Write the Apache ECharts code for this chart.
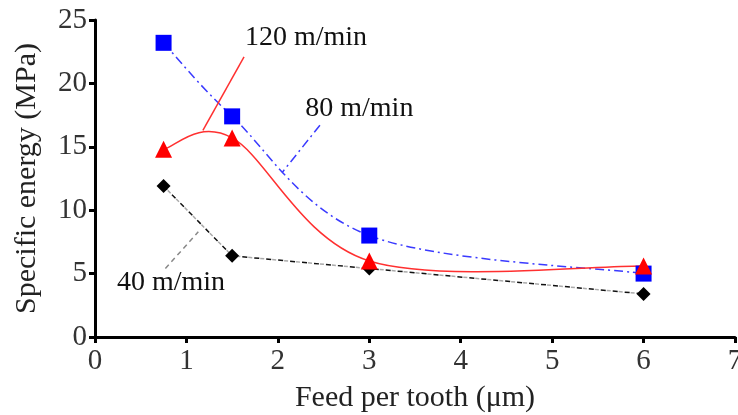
<!DOCTYPE html>
<html>
<head>
<meta charset="utf-8">
<script src="https://cdn.jsdelivr.net/npm/echarts@6/dist/echarts.min.js"></script>
<style>
  html, body { margin: 0; padding: 0; background: #fff; }
  #chart { width: 738px; height: 415px; }
</style>
</head>
<body>
<div id="chart"></div>
<script>
// feed per tooth (um)
const feeds = [0.75, 1.5, 3, 6];
// specific energy (MPa) for each cutting speed
const energy80 = [23.2, 17.4, 8.0, 5.0];
const energy120 = [14.8, 15.7, 6.0, 5.6];
const energy40 = [11.9, 6.4, 5.4, 3.4];

const xTicks = [0, 1, 2, 3, 4, 5, 6, 7];
const yTicks = [0, 5, 10, 15, 20, 25];
const speedNames = ['120 m/min', '80 m/min', '40 m/min'];

// where the annotation texts and their leader lines sit (axis units)
const notePos = [[1.64, 23.6], [2.30, 18.0], [0.24, 4.3]];
const noteLines = [
  [[1.63, 22.1], [1.18, 16.3]],
  [[2.46, 16.7], [2.05, 13.0]],
  [[0.77, 5.4], [1.13, 8.3]]
];

const serif = 'Liberation Serif';

function pairs(ys) {
  return feeds.map((x, i) => [x, ys[i]]);
}

// catmull-rom style bezier through the pixel points (like a spreadsheet "smoothed line")
function smoothPath(p) {
  let d = 'M' + p[0][0] + ',' + p[0][1];
  for (let i = 0; i < p.length - 1; i++) {
    const p0 = p[Math.max(i - 1, 0)], p1 = p[i], p2 = p[i + 1], p3 = p[Math.min(i + 2, p.length - 1)];
    const c1 = [p1[0] + (p2[0] - p0[0]) / 6, p1[1] + (p2[1] - p0[1]) / 6];
    const c2 = [p2[0] - (p3[0] - p1[0]) / 6, p2[1] - (p3[1] - p1[1]) / 6];
    d += ' C' + c1[0] + ',' + c1[1] + ' ' + c2[0] + ',' + c2[1] + ' ' + p2[0] + ',' + p2[1];
  }
  return d;
}
function straightPath(p) {
  return p.map((q, i) => (i ? 'L' : 'M') + q[0] + ',' + q[1]).join(' ');
}

function curve(ys, smooth, strokes, z) {
  return {
    type: 'custom',
    coordinateSystem: 'cartesian2d',
    data: pairs(ys),
    silent: true,
    z: z,
    renderItem: function (params, api) {
      if (params.dataIndex !== 0) return null;
      const pts = feeds.map((x, i) => api.coord([x, ys[i]]));
      const d = smooth ? smoothPath(pts) : straightPath(pts);
      return {
        type: 'group',
        children: strokes.map(s => ({
          type: 'path',
          shape: { pathData: d },
          style: { fill: 'none', stroke: s.color, lineWidth: 1.5, lineDash: s.dash || null, lineDashOffset: s.offset || 0 }
        }))
      };
    }
  };
}

function markers(name, ys, symbol, size, color, note, lineColor, lineType) {
  return {
    name: name,
    type: 'scatter',
    data: pairs(ys),
    symbol: symbol,
    symbolSize: size,
    itemStyle: { color: color, opacity: 1 },
    z: 5,
    markLine: {
      silent: true,
      symbol: ['none', 'none'],
      label: { show: false },
      lineStyle: { color: lineColor, width: 1.5, type: lineType },
      emphasis: { disabled: true },
      data: [[{ coord: noteLines[note][0] }, { coord: noteLines[note][1] }]]
    }
  };
}

const chart = echarts.init(document.getElementById('chart'));

const option = {
  animation: false,
  grid: { left: 95, right: 3, top: 20, bottom: 78, outerBoundsMode: 'none', containLabel: false },
  xAxis: {
    type: 'value',
    min: 0,
    max: 7,
    interval: 1,
    name: 'Feed per tooth (\u03bcm)',
    nameLocation: 'middle',
    nameGap: 46,
    nameTextStyle: { fontFamily: serif, fontSize: 30, color: '#222' },
    axisLine: { lineStyle: { color: '#000', width: 3 } },
    axisTick: { show: true, length: 6, lineStyle: { color: '#000', width: 3 } },
    axisLabel: { fontFamily: serif, fontSize: 29, color: '#333', margin: 10,
      formatter: v => xTicks.includes(v) ? String(v) : '' },
    splitLine: { show: false }
  },
  yAxis: {
    type: 'value',
    min: 0,
    max: 25,
    interval: 5,
    name: 'Specific energy (MPa)',
    nameLocation: 'middle',
    nameGap: 53,
    nameTextStyle: { fontFamily: serif, fontSize: 30, color: '#222' },
    axisLine: { show: true, lineStyle: { color: '#000', width: 3 } },
    axisTick: { show: true, length: 6, lineStyle: { color: '#000', width: 3 } },
    axisLabel: { fontFamily: serif, fontSize: 29, color: '#333', margin: 8,
      formatter: v => yTicks.includes(v) ? String(v) : '' },
    splitLine: { show: false }
  },
  series: [
    curve(energy40, false, [
      { color: '#111', dash: [5, 7] },
      { color: '#aaa', dash: [4, 8], offset: 6 }
    ], 2),
    curve(energy80, true, [{ color: '#3a3aff', dash: [9, 4, 2, 4] }], 3),
    curve(energy120, true, [{ color: '#ff3030' }], 4),
    markers('40 m/min', energy40, 'diamond', 14, '#000', 2, '#888', [5, 4]),
    markers('80 m/min', energy80, 'rect', 16, '#0000ff', 1, '#3a3aff', [9, 4, 2, 4]),
    markers('120 m/min', energy120, 'triangle', 17, '#ff0000', 0, '#ff3030', 'solid')
  ]
};

chart.setOption(option);

// annotation texts, placed from their axis-unit positions
const graphic = speedNames.map((t, i) => {
  const p = chart.convertToPixel({ gridIndex: 0 }, notePos[i]);
  return {
    type: 'text',
    x: p[0],
    y: p[1],
    z: 10,
    style: { text: t, fontFamily: serif, fontSize: 28, fill: '#111', verticalAlign: 'middle' }
  };
});
chart.setOption({ graphic: graphic });
</script>
</body>
</html>
